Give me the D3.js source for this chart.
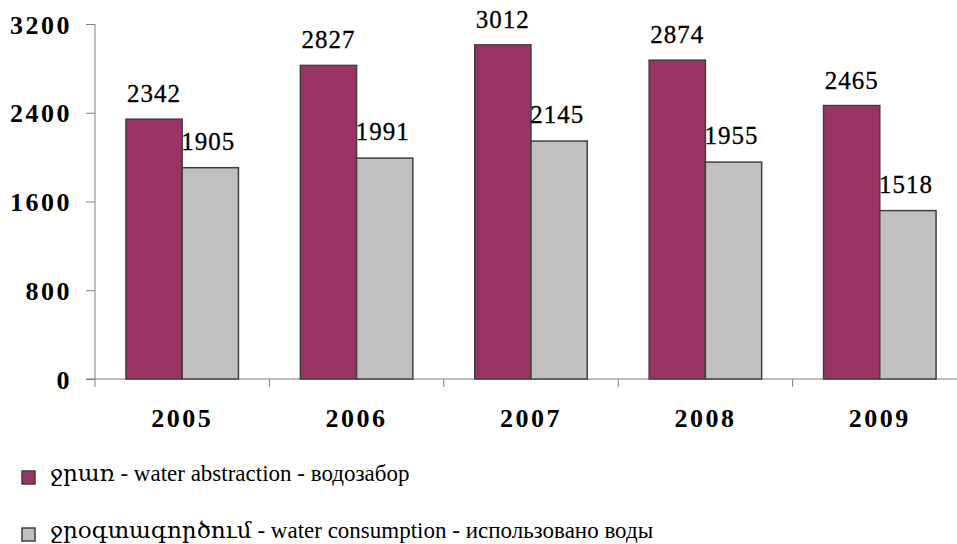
<!DOCTYPE html>
<html>
<head>
<meta charset="utf-8">
<script src="https://cdn.jsdelivr.net/npm/d3@7"></script>
<style>
  body { margin: 0; background: #fff; }
  svg { display: block; }
</style>
</head>
<body>
<div name="chart"></div>
<script>
const years = ['2005', '2006', '2007', '2008', '2009'];
const abstraction = [2342, 2827, 3012, 2874, 2465];
const consumption = [1905, 1991, 2145, 1955, 1518];
const yTicks = [0, 800, 1600, 2400, 3200];
const seriesNames = [
  'ջրառ - water abstraction - водозабор',
  'ջրօգտագործում - water consumption - использовано воды',
];
const seriesColors = ['#993366', '#c0c0c0'];

const svgWidth = 957, svgHeight = 544;
const plotLeft = 95, plotRight = 967, plotTop = 24, plotBottom = 379;

const rows = years.map((yr, i) => ({ year: yr, values: [abstraction[i], consumption[i]] }));

const svg = d3.select('div[name=chart]').append('svg')
  .attr('width', svgWidth)
  .attr('height', svgHeight);

const x0 = d3.scaleBand().domain(years).range([plotLeft, plotRight]);
const x1 = d3.scaleBand().domain([0, 1]).range([0, x0.bandwidth()]).paddingOuter(0.55);
const y = d3.scaleLinear().domain([0, 3200]).range([plotBottom, plotTop]);

const serif = '"Liberation Serif", "Times New Roman", serif';

// y axis
const yAxis = svg.append('g')
  .attr('transform', `translate(${plotLeft},0)`)
  .call(d3.axisLeft(y).tickValues(yTicks).tickSize(9).tickPadding(14).tickFormat(d3.format('d')));
yAxis.select('.domain').attr('stroke', '#808080').attr('d', `M0,${plotTop}V${plotBottom + 8}`);
yAxis.selectAll('line').attr('stroke', '#808080');
yAxis.selectAll('text')
  .attr('font-family', serif)
  .attr('font-size', 26)
  .attr('font-weight', 'bold')
  .attr('letter-spacing', 2.5)
  .attr('fill', '#000')
  .attr('dy', '0.35em');

// x axis
const xAxis = svg.append('g')
  .attr('transform', `translate(0,${plotBottom})`)
  .call(d3.axisBottom(x0).tickSize(0).tickPadding(30));
xAxis.select('.domain').attr('stroke', '#808080').attr('d', `M${plotLeft - 9},0H${plotRight}`);
xAxis.selectAll('text')
  .attr('font-family', serif)
  .attr('font-size', 26)
  .attr('font-weight', 'bold')
  .attr('letter-spacing', 2.5)
  .attr('fill', '#000');
// category separators
xAxis.selectAll('.sep')
  .data(years.slice(1))
  .enter()
  .append('line')
  .attr('x1', d => x0(d))
  .attr('x2', d => x0(d))
  .attr('y1', 0)
  .attr('y2', 8)
  .attr('stroke', '#808080');

// bars
const groups = svg.selectAll('.grp')
  .data(rows)
  .enter()
  .append('g')
  .attr('transform', d => `translate(${x0(d.year)},0)`);

groups.selectAll('rect')
  .data(d => d.values.map((v, i) => ({ v, i })))
  .enter()
  .append('rect')
  .attr('x', d => x1(d.i))
  .attr('width', x1.bandwidth())
  .attr('y', d => y(d.v))
  .attr('height', d => plotBottom - y(d.v))
  .attr('fill', d => seriesColors[d.i])
  .attr('stroke', '#404040')
  .attr('stroke-width', 1.5);

groups.selectAll('.val')
  .data(d => d.values.map((v, i) => ({ v, i })))
  .enter()
  .append('text')
  .attr('x', d => x1(d.i) + x1.bandwidth() / 2 + (d.i ? -2 : 0))
  .attr('y', d => y(d.v) - (d.i ? 18 : 17))
  .attr('text-anchor', 'middle')
  .attr('font-family', serif)
  .attr('font-size', 25)
  .attr('letter-spacing', 1)
  .attr('fill', '#000')
  .attr('stroke', '#000')
  .attr('stroke-width', 0.3)
  .text(d => d.v);

// legend
const legend = svg.selectAll('.leg')
  .data(seriesNames)
  .enter()
  .append('g')
  .attr('transform', (d, i) => `translate(22,${471 + i * 57})`);

legend.append('rect')
  .attr('width', 13)
  .attr('height', 13)
  .attr('fill', (d, i) => seriesColors[i])
  .attr('stroke', '#404040')
  .attr('stroke-width', 1.5);

legend.append('text')
  .attr('x', 28)
  .attr('y', 10)
  .attr('font-family', '"Liberation Serif", "DejaVu Serif", serif')
  .attr('font-size', 23)
  .attr('fill', '#000')
  .text(d => d);
</script>
</body>
</html>
